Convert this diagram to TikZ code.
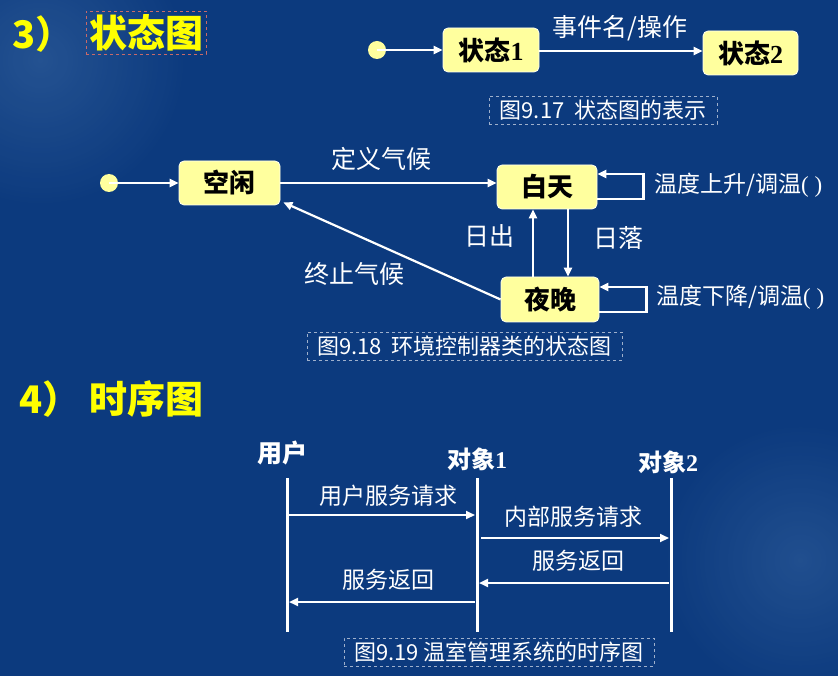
\documentclass[tikz,border=0pt]{standalone}
\usepackage{fontspec}
\setmainfont{Liberation Serif}
\newfontfamily\cjk{Noto Sans CJK SC}
\usetikzlibrary{arrows.meta,calc}
\definecolor{bg}{HTML}{0C3A7E}
\definecolor{bgl}{HTML}{2A5896}
\definecolor{boxy}{HTML}{FFFF9E}
\definecolor{ttl}{HTML}{FFFF00}
\definecolor{capline}{HTML}{9FB0CC}
\definecolor{redline}{HTML}{C86A6A}
\tikzset{
  statebox/.style={draw=white!85!boxy, line width=0.8pt, fill=boxy, rounded corners=5pt,
    inner sep=0pt, text=black, font=\cjk\bfseries\fontsize{26}{26}\selectfont},
  initdot/.style={circle, fill=boxy, inner sep=0pt, minimum size=18pt},
  arr/.style={draw=white, line width=2.2pt, -{Triangle[length=9pt,width=8pt]}},
  lbl/.style={text=white, inner sep=0pt, font=\cjk\fontsize{25}{25}\selectfont},
  slbl/.style={text=white, inner sep=0pt, font=\cjk\fontsize{23}{23}\selectfont},
  head/.style={text=white, inner sep=0pt, font=\cjk\bfseries\fontsize{24}{24}\selectfont},
  caption/.style={draw=capline, dashed, line width=0.8pt, text=white, inner sep=0pt,
    minimum height=28pt, font=\cjk\fontsize{22}{22}\selectfont},
  title/.style={text=ttl, inner sep=0pt, font=\cjk\bfseries\fontsize{38}{38}\selectfont},
  life/.style={draw=white, line width=3pt}
}
\begin{document}
\begin{tikzpicture}[x=1pt,y=-1pt]
\useasboundingbox (0,0) rectangle (838,676);
% background
\begin{scope}
\clip (0,0) rectangle (838,676);
\fill[bg] (0,0) rectangle (838,676);
\shade[inner color=bgl, outer color=bg, opacity=0.8] (40,60) circle (150);
\shade[inner color=bgl, outer color=bg, opacity=0.7] (800,560) circle (140);
\end{scope}

% titles
\node[title, anchor=west] (t3) at (12,34) {3）};
\node[title, draw=redline, dashed, line width=0.8pt, minimum width=120pt, minimum height=43pt] (t3b) at (146,32.5) {状态图};
\node[title, anchor=west] (t4) at (19,399) {4）};
\node[title, minimum width=120pt] (t4b) at (146,399) {时序图};

% ---- Figure 9.17
\node[initdot] (i1) at (377,50) {};
\node[statebox, minimum width=96pt, minimum height=44pt] (s1) at (491,50) {状态{\rmfamily\bfseries 1}};
\node[statebox, minimum width=95pt, minimum height=44pt] (s2) at (750.5,53) {状态{\rmfamily\bfseries 2}};
\draw[arr] (i1.center) -- (s1.west);
\draw[arr] (s1.east |- 0,51) coordinate (a1) -- (s2.west |- a1);
\node[lbl] (e1) at (620,28) {事件名/操作};
\node[caption, minimum width=228pt] (c1) at (603,110) {图9.17\ \ 状态图的表示};

% ---- Figure 9.18
\node[initdot] (i2) at (109,183) {};
\node[statebox, minimum width=101pt, minimum height=44pt] (idle) at (229.5,183) {空闲};
\node[statebox, minimum width=100pt, minimum height=44pt] (day) at (547,187) {白天};
\node[statebox, minimum width=98pt, minimum height=45pt] (night) at (550,299.5) {夜晚};
\draw[arr] (i2.center) -- (idle.west);
\draw[arr] (idle.east) -- (day.west |- idle.east);
\node[lbl] (l1) at (381,159) {定义气候};
\coordinate (xr) at (533,0);
\coordinate (xs) at (568,0);
\draw[arr] (night.north -| xr) -- (day.south -| xr);
\draw[arr] (day.south -| xs) -- (night.north -| xs);
\node[lbl] (l2) at (489,236) {日出};
\node[lbl] (l3) at (618,238) {日落};
\draw[arr] (night.west) -- ($(idle.south east)+(3,-3)$);
\node[lbl] (l4) at (354,274) {终止气候};
\draw[arr] ($(day.east)+(0,12)$) -- ++(46,0) |- ($(day.east)+(0,-13)$);
\draw[arr] ($(night.east)+(0,12.5)$) -- ++(47,0) |- ($(night.east)+(0,-12.5)$);
\node[slbl, anchor=west] (l5) at (654,185) {温度上升/调温{\rmfamily( )}};
\node[slbl, anchor=west] (l6) at (656,297) {温度下降/调温{\rmfamily( )}};
\node[caption, minimum width=315pt] (c2) at (464.5,346) {图9.18\ \ 环境控制器类的状态图};

% ---- Figure 9.19
\node[head, font=\cjk\bfseries\fontsize{25}{25}\selectfont] (h1) at (282,453) {用户};
\node[head] (h2) at (477,459) {对象{\rmfamily\bfseries 1}};
\node[head] (h3) at (668,462) {对象{\rmfamily\bfseries 2}};
\coordinate (u1) at (287,478); \coordinate (u2) at (287,632);
\coordinate (o1) at (477,478); \coordinate (o2) at (477,632);
\coordinate (p1) at (671,478); \coordinate (p2) at (671,632);
\draw[life] (u1) -- (u2);
\draw[life] (o1) -- (o2);
\draw[life] (p1) -- (p2);
\coordinate (m1) at (0,515);
\coordinate (m2) at (0,538);
\coordinate (m3) at (0,583);
\coordinate (m4) at (0,602);
\draw[arr] ($(u1 |- m1)+(2,0)$) -- ($(o1 |- m1)+(-2,0)$);
\draw[arr] ($(o1 |- m2)+(4,0)$) -- ($(p1 |- m2)+(-2,0)$);
\draw[arr] ($(p1 |- m3)+(-2,0)$) -- ($(o1 |- m3)+(2,0)$);
\draw[arr] ($(o1 |- m4)+(-2,0)$) -- ($(u1 |- m4)+(2,0)$);
\node[slbl] (g1) at (388,496) {用户服务请求};
\node[slbl] (g2) at (573,517) {内部服务请求};
\node[slbl] (g3) at (578,561) {服务返回};
\node[slbl] (g4) at (388,580) {服务返回};
\node[caption, minimum width=310pt] (c3) at (499,652) {图9.19 温室管理系统的时序图};
\end{tikzpicture}
\end{document}
